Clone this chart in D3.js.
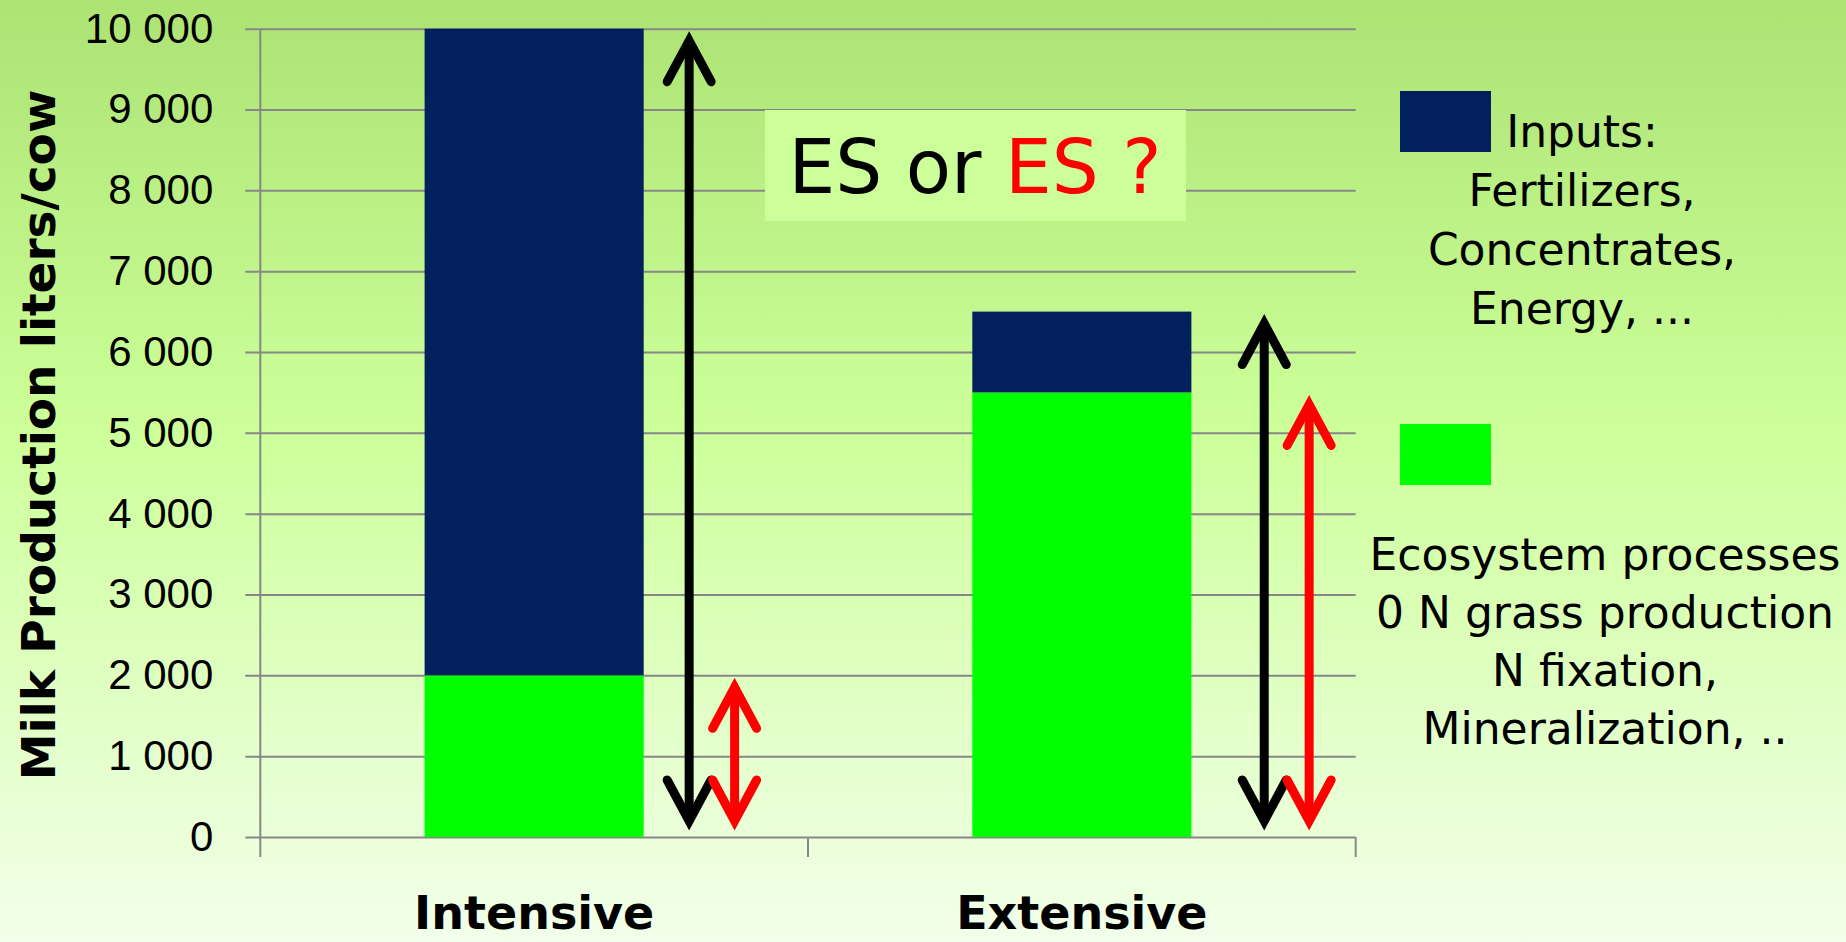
<!DOCTYPE html>
<html>
<head>
<meta charset="utf-8">
<script src="https://cdn.jsdelivr.net/npm/d3@7"></script>
<style>
  body { margin: 0; overflow: hidden; }
  svg { display: block; }
</style>
</head>
<body>
<div id="chart"></div>
<script>
const categories = ["Intensive", "Extensive"];
const ecosystemValues = [2000, 5500];
const inputValues = [8000, 1000];
const yTicks = [0, 1000, 2000, 3000, 4000, 5000, 6000, 7000, 8000, 9000, 10000];
const yTitle = "Milk Production liters/cow";
const inputsLines = ["Inputs:", "Fertilizers,", "Concentrates,", "Energy, ..."];
const ecoLines = ["Ecosystem processes", "0 N grass production", "N fixation,", "Mineralization, .."];
const questionParts = [["ES or ", "#000"], ["ES ?", "#ff0000"]];

const width = 1846, height = 942;
const navy = "#02205e", green = "#00ff00", grid = "#878787";
const sans = "'Liberation Sans', Arial, sans-serif";
const comic = "'Comic Sans MS', 'DejaVu Sans', sans-serif";

const rows = categories.map((c, i) => ({ cat: c, eco: ecosystemValues[i], inputs: inputValues[i] }));
const stacked = d3.stack().keys(["eco", "inputs"])(rows);

const svg = d3.select("#chart").append("svg").attr("width", width).attr("height", height);

const grad = svg.append("defs").append("linearGradient").attr("id", "bg")
  .attr("x1", 0).attr("y1", 0).attr("x2", 0).attr("y2", 1);
grad.append("stop").attr("offset", "0%").attr("stop-color", "#ace373");
grad.append("stop").attr("offset", "45%").attr("stop-color", "#ccff99");
grad.append("stop").attr("offset", "100%").attr("stop-color", "#f2ffea");
svg.append("rect").attr("width", width).attr("height", height).attr("fill", "url(#bg)");

const left = 260.3, right = 1355.7, tickOut = 15;
const x = d3.scaleBand().domain(categories).range([left, right]);
const y = d3.scaleLinear().domain([0, 10000]).range([837, 28.7]);
const fmt = d3.formatLocale({ decimal: ",", thousands: " ", grouping: [3], currency: ["", ""] }).format(",d");

// gridlines + tick labels
const yAxis = d3.axisLeft(y).tickValues(yTicks).tickFormat(fmt)
  .tickSize(-(right - left + tickOut)).tickPadding(32);
const ga = svg.append("g").attr("transform", `translate(${left - tickOut},0)`).call(yAxis);
ga.select(".domain").remove();
ga.selectAll(".tick line").attr("stroke", grid).attr("stroke-width", 2);
ga.selectAll(".tick text").attr("font-family", sans).attr("font-size", 42).attr("fill", "#000");

// axis lines
svg.append("line").attr("x1", left).attr("x2", left).attr("y1", y(10000)).attr("y2", y(0) + 20)
  .attr("stroke", grid).attr("stroke-width", 2);
const bounds = categories.map(c => x(c)).concat([x(categories[categories.length - 1]) + x.bandwidth()]);
svg.append("g").selectAll("line").data(bounds.slice(1)).join("line")
  .attr("x1", d => d).attr("x2", d => d).attr("y1", y(0)).attr("y2", y(0) + 20)
  .attr("stroke", grid).attr("stroke-width", 2);

// bars
const barStart = 0.3, barFrac = 0.4;
svg.append("g").selectAll("g").data(stacked).join("g")
  .attr("fill", d => d.key === "eco" ? green : navy)
  .selectAll("rect").data(d => d).join("rect")
  .attr("x", d => x(d.data.cat) + x.bandwidth() * barStart)
  .attr("width", x.bandwidth() * barFrac)
  .attr("y", d => y(d[1]))
  .attr("height", d => y(d[0]) - y(d[1]));

// double-headed arrows: black = total, red = ecosystem part
const arrowPos = [[0.783, 0.866], [0.833, 0.915]];
const arrows = [];
rows.forEach((r, i) => {
  arrows.push({ cat: r.cat, v: r.eco + r.inputs, f: arrowPos[i][0], color: "#000" });
  arrows.push({ cat: r.cat, v: r.eco, f: arrowPos[i][1], color: "#ff0000" });
});
const ag = svg.append("g").attr("fill", "none").attr("stroke-width", 9)
  .attr("stroke-linecap", "round").attr("stroke-linejoin", "miter").attr("stroke-miterlimit", 10);
arrows.forEach(a => {
  const ax = x(a.cat) + x.bandwidth() * a.f;
  const top = y(a.v) + 3, bot = y(0) - 7;
  const g = ag.append("g").attr("stroke", a.color);
  g.append("line").attr("x1", ax).attr("x2", ax).attr("y1", top + 10).attr("y2", bot - 10).attr("stroke-linecap", "butt");
  g.append("path").attr("d", `M${ax - 22},${top + 50}L${ax},${top + 9}L${ax + 22},${top + 50}`);
  g.append("path").attr("d", `M${ax - 22},${bot - 50}L${ax},${bot - 9}L${ax + 22},${bot - 50}`);
});

// question box
svg.append("rect").attr("x", 765).attr("y", 110).attr("width", 421).attr("height", 111).attr("fill", "#ccff99");
const qt = svg.append("text").attr("x", 975).attr("y", 193).attr("text-anchor", "middle")
  .attr("font-family", comic).attr("font-size", 74);
qt.selectAll("tspan").data(questionParts).join("tspan").attr("fill", d => d[1]).text(d => d[0]);

// y title
svg.append("text").attr("transform", "translate(55,435) rotate(-90)").attr("text-anchor", "middle")
  .attr("font-family", comic).attr("font-weight", "bold").attr("font-size", 47).text(yTitle);

// category labels
svg.append("g").selectAll("text").data(categories).join("text")
  .attr("x", d => x(d) + x.bandwidth() / 2).attr("y", 929)
  .attr("text-anchor", "middle").attr("font-family", comic).attr("font-weight", "bold")
  .attr("font-size", 46).text(d => d);

// legend
svg.append("rect").attr("x", 1400).attr("y", 91).attr("width", 91).attr("height", 61).attr("fill", navy);
svg.append("rect").attr("x", 1400).attr("y", 424).attr("width", 91).attr("height", 61).attr("fill", green);
svg.append("g").selectAll("text").data(inputsLines).join("text")
  .attr("x", 1582).attr("y", (d, i) => 147 + i * 59).attr("text-anchor", "middle")
  .attr("font-family", comic).attr("font-size", 44).text(d => d);
svg.append("g").selectAll("text").data(ecoLines).join("text")
  .attr("x", 1605).attr("y", (d, i) => 570 + i * 58).attr("text-anchor", "middle")
  .attr("font-family", comic).attr("font-size", 44).text(d => d);
</script>
</body>
</html>
